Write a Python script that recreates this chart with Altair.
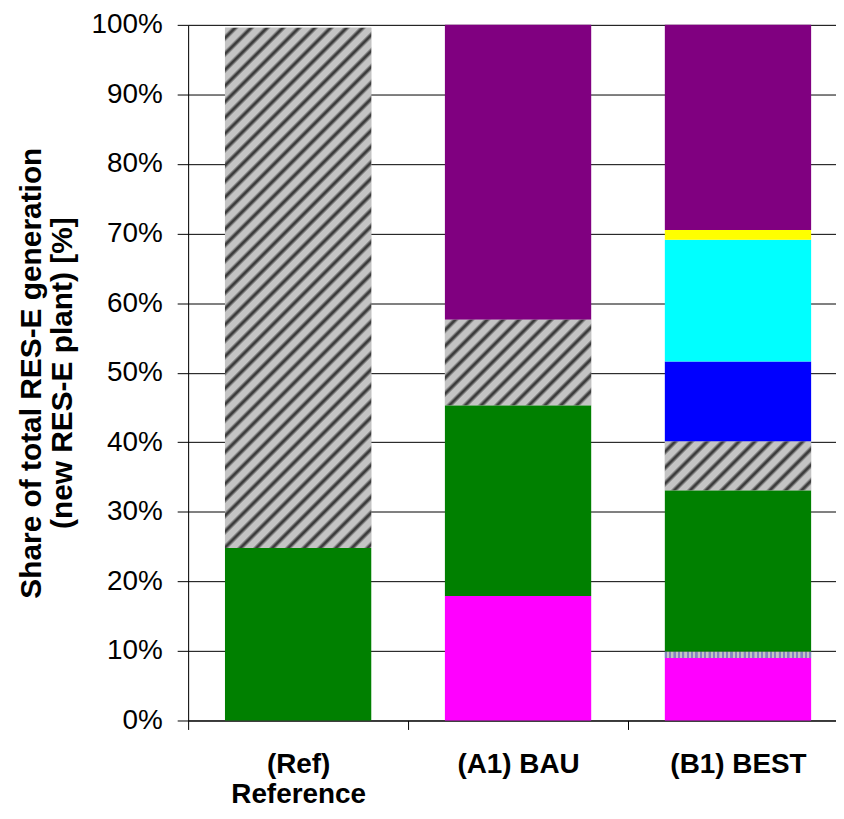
import altair as alt
import pandas as pd

# ---------------- data ----------------
categories = ["(Ref)|Reference", "(A1) BAU", "(B1) BEST"]
series = ["Biomass", "Biowaste", "Hydro", "Wind onshore", "Wind offshore",
          "Photovoltaics", "Solar thermal", "Other"]
colors = ["#FF00FF", "#9a9ac4", "#008000", "#b0b0b0", "#0000FF",
          "#00FFFF", "#FFFF00", "#800080"]
values = {
    "Biomass":       [0.0, 17.9, 9.0],
    "Biowaste":      [0.0, 0.0, 0.9],
    "Hydro":         [24.8, 27.4, 23.2],
    "Wind onshore":  [74.8, 12.3, 7.0],
    "Wind offshore": [0.0, 0.0, 11.5],
    "Photovoltaics": [0.0, 0.0, 17.5],
    "Solar thermal": [0.0, 0.0, 1.4],
    "Other":         [0.0, 42.4, 29.5],
}
y_ticks = list(range(0, 101, 10))
hatched_series = "Wind onshore"
pinstripe_series = "Biowaste"

rows = []
for si, s in enumerate(series):
    for ci, c in enumerate(categories):
        v = values[s][ci]
        if v > 0:
            rows.append({"category": c, "series": s, "value": v, "order": si})
df = pd.DataFrame(rows)

# ---------------- layout constants ----------------
PLOT_W, PLOT_H = 651, 699
P_INNER, P_OUTER, ALIGN = 0.3348, 0.1403, 0.597
STEP = PLOT_W / (3 - P_INNER + 2 * P_OUTER)
BAR_W = STEP * (1 - P_INNER)

FONT = "Liberation Sans"


def diag_hatch(w, h, period=16.0, light="#c4c4c4", dark="#3c3c3c"):
    """Linear gradient drawing '/' stripes in a w x h px box."""
    k = (w + h) / (w * w + h * h)
    n = (w + h) / period
    stops = []
    prof = [(0.0, light), (0.38, light), (0.6, dark), (0.7, dark), (0.92, light)]
    i = 0
    while i < n:
        for a, col in prof:
            off = (i + a) / n
            if off <= 1.0:
                stops.append({"offset": off, "color": col})
        i += 1
    stops.append({"offset": 1.0, "color": light})
    return alt.LinearGradient(gradient="linear", x1=0, y1=0,
                              x2=w * k, y2=h * k, stops=stops)


def vert_stripes(w, period=4.4, a="#8585bf", b="#c4c4c4"):
    n = w / period
    stops = []
    i = 0
    while i < n:
        for f, col in [(0.0, a), (0.45, a), (0.5, b), (0.95, b)]:
            off = (i + f) / n
            if off <= 1.0:
                stops.append({"offset": off, "color": col})
        i += 1
    return alt.LinearGradient(gradient="linear", x1=0, y1=0, x2=1, y2=0, stops=stops)


base = alt.Chart(df).transform_stack(
    stack="value", groupby=["category"], as_=["y0", "y1"],
    sort=[alt.SortField("order", order="ascending")]
)

x_enc = alt.X(
    "category:N", sort=categories,
    scale=alt.Scale(paddingInner=P_INNER, paddingOuter=P_OUTER, align=ALIGN),
    axis=alt.Axis(
        title=None, labelAngle=0, tickSize=9,
        tickOffset=-STEP / 2, labelOffset=STEP / 2,
        tickColor="black", domainColor="black", domainWidth=1,
        labelFont=FONT, labelFontSize=28, labelFontWeight="bold",
        labelColor="black", labelPadding=21, labelLineHeight=30,
        labelExpr="isValid(datum.value) ? split(datum.value, '|') : ''",
        grid=False,
    ),
)
y_enc = alt.Y(
    "y0:Q",
    scale=alt.Scale(domain=[0, 100], nice=False, zero=True),
    axis=alt.Axis(
        values=y_ticks, labelExpr="datum.value + '%'",
        labelFont=FONT, labelFontSize=28, labelColor="black",
        labelPadding=15, tickSize=11, tickColor="black",
        domainColor="black", grid=True, gridColor="black",
        gridWidth=1, gridOpacity=1,
        title=["Share of total RES-E generation", "(new RES-E plant) [%]"],
        titleFont=FONT, titleFontSize=30, titleFontWeight="bold",
        titleColor="black", titlePadding=14, titleLineHeight=31,
    ),
)

solid = base.mark_bar().encode(
    x=x_enc, y=y_enc, y2="y1:Q",
    color=alt.Color("series:N", scale=alt.Scale(domain=series, range=colors), legend=None),
)

layers = [solid]
for ci, c in enumerate(categories):
    v = values[hatched_series][ci]
    if v > 0:
        h = v / 100.0 * PLOT_H
        layers.append(
            base.transform_filter(
                (alt.datum.category == c) & (alt.datum.series == hatched_series)
            ).mark_bar(fill=diag_hatch(BAR_W, h)).encode(x=alt.X("category:N", sort=categories), y="y0:Q", y2="y1:Q")
        )
    v2 = values[pinstripe_series][ci]
    if v2 > 0:
        layers.append(
            base.transform_filter(
                (alt.datum.category == c) & (alt.datum.series == pinstripe_series)
            ).mark_bar(fill=vert_stripes(BAR_W)).encode(x=alt.X("category:N", sort=categories), y="y0:Q", y2="y1:Q")
        )

chart = alt.layer(*layers).properties(
    width=PLOT_W, height=PLOT_H,
    padding={"left": 181, "top": 15, "right": 0, "bottom": 89},
    autosize=alt.AutoSizeParams(type="none"),
).configure_view(stroke=None).configure(background="white")

chart.save("out.html", embed_options={"renderer": "svg", "actions": False})
